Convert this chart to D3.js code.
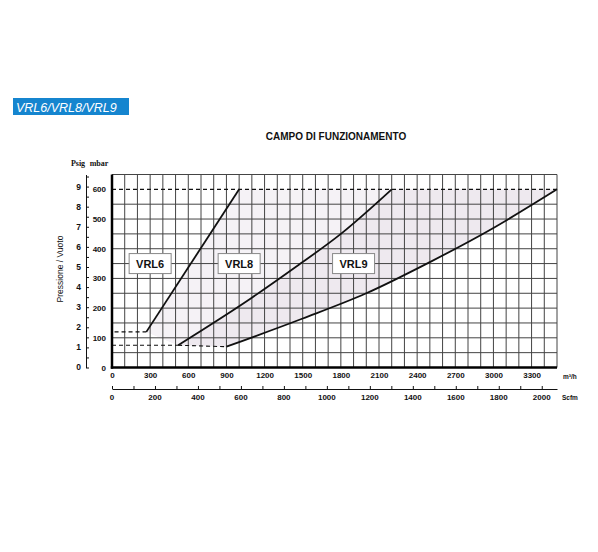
<!DOCTYPE html>
<html>
<head>
<meta charset="utf-8">
<script src="https://cdn.jsdelivr.net/npm/d3@7"></script>
<style>
body { margin: 0; background: #fff; overflow: hidden; }
svg { display: block; }
text { font-family: "Liberation Sans", Arial, sans-serif; fill: #111; }
</style>
</head>
<body>
<svg id="chart" width="598" height="552"></svg>
<script>
// values (flow in m3/h, pressure in mbar)
const models = ["VRL6", "VRL8", "VRL9"];
const vrl6 = [[270, 120], [1000, 600]];
const vrl8 = [[520, 75], [1100, 235], [1450, 340], [1800, 450], [2200, 600]];
const vrl9 = [[900, 70], [1500, 165], [2000, 250], [2500, 355], [3000, 470], [3500, 600]];
// dashed approach before each curve starts: [flow, pressure]
const leadIn = [[20, 120], [0, 75], [520, 75]];
const labelFlow = [300, 1000, 1900];
const labelPressure = 350;
const maxPressure = 600;

const flowTicks = [0, 300, 600, 900, 1200, 1500, 1800, 2100, 2400, 2700, 3000, 3300];
const scfmTicks = [0, 200, 400, 600, 800, 1000, 1200, 1400, 1600, 1800, 2000];
const mbarTicks = [0, 100, 200, 300, 400, 500, 600];
const psigTicks = [0, 1, 2, 3, 4, 5, 6, 7, 8, 9];
const M3H_PER_SCFM = 1.69;
const MBAR_PER_PSI = 67.7;

const svg = d3.select("#chart");
const margin = {top: 174.5, right: 41, bottom: 184.5, left: 112};
const innerWidth = 598 - margin.left - margin.right;
const innerHeight = 552 - margin.top - margin.bottom;

const x = d3.scaleLinear().domain([0, 3500]).range([0, innerWidth]);
const y = d3.scaleLinear().domain([0, 650]).range([innerHeight, 0]);
const xScfm = d3.scaleLinear().domain([0, 3500 / M3H_PER_SCFM]).range([0, innerWidth]);
const yPsi = d3.scaleLinear().domain([0, 650 / MBAR_PER_PSI]).range([innerHeight, 0]);

// header badge + title
svg.append("rect").attr("x", 13).attr("y", 98).attr("width", 116).attr("height", 17).attr("fill", "#1585cf");
svg.append("text").attr("x", 16).attr("y", 111.5)
    .style("fill", "#fff").style("font-size", "12.5px").style("font-style", "italic")
    .text("VRL6/VRL8/VRL9");

svg.append("text").attr("x", 336).attr("y", 139.5).attr("text-anchor", "middle")
    .style("font-size", "10px").style("font-weight", "bold")
    .text("CAMPO DI FUNZIONAMENTO");

const g = svg.append("g").attr("transform", `translate(${margin.left},${margin.top})`);

// shaded working field
const curve = d3.line().x(d => x(d[0])).y(d => y(d[1])).curve(d3.curveMonotoneX);
const top6 = vrl6[vrl6.length - 1], start6 = vrl6[0];
function closeBack(pts) {
    return pts.map(p => "L" + x(p[0]) + "," + y(p[1])).join("") + "Z";
}
g.append("path").attr("d", curve(vrl9) + closeBack([top6, start6, vrl8[0]])).attr("fill", "#eee9ef");
g.append("path").attr("d", curve(vrl8) + closeBack([top6, start6])).attr("fill", "#f5f2f6");

// grid
const gridFlow = d3.range(100, 3501, 100);
const gridP = d3.range(50, 651, 50).filter(v => v !== maxPressure);
g.selectAll(".vgrid").data(gridFlow).join("line")
    .attr("class", "vgrid")
    .attr("x1", d => x(d)).attr("x2", d => x(d))
    .attr("y1", 0).attr("y2", innerHeight)
    .attr("stroke", "#444").attr("stroke-width", 1);
g.selectAll(".hgrid").data(gridP).join("line")
    .attr("class", "hgrid")
    .attr("x1", 0).attr("x2", innerWidth)
    .attr("y1", d => y(d)).attr("y2", d => y(d))
    .attr("stroke", "#444").attr("stroke-width", 1);

// max pressure
g.append("line")
    .attr("x1", x(0)).attr("x2", x(3500))
    .attr("y1", y(maxPressure)).attr("y2", y(maxPressure))
    .attr("stroke", "#111").attr("stroke-width", 1.1).attr("stroke-dasharray", "4,3");

const series = [vrl6, vrl8, vrl9];
series.forEach(function(pts, i) {
    g.append("line")
        .attr("x1", x(leadIn[i][0])).attr("y1", y(leadIn[i][1]))
        .attr("x2", x(pts[0][0])).attr("y2", y(pts[0][1]))
        .attr("stroke", "#111").attr("stroke-width", 1.1).attr("stroke-dasharray", "4,3");
    g.append("path").attr("d", curve(pts))
        .attr("fill", "none").attr("stroke", "#111").attr("stroke-width", 1.8);
});

// model labels
const boxes = g.selectAll(".model").data(models).join("g")
    .attr("class", "model")
    .attr("transform", (d, i) => `translate(${x(labelFlow[i])},${y(labelPressure)})`);
boxes.append("rect").attr("x", -21).attr("y", -10).attr("width", 42).attr("height", 20)
    .attr("fill", "#fff").attr("stroke", "#888").attr("stroke-width", 1);
boxes.append("text").attr("text-anchor", "middle").attr("dy", "0.36em")
    .style("font-size", "11px").style("font-weight", "bold")
    .text(d => d);

// frame
g.append("line").attr("x1", 0).attr("x2", 0).attr("y1", 0).attr("y2", innerHeight + 1.2)
    .attr("stroke", "#000").attr("stroke-width", 2.5);
g.append("line").attr("x1", -1.2).attr("x2", innerWidth).attr("y1", innerHeight).attr("y2", innerHeight)
    .attr("stroke", "#000").attr("stroke-width", 2.5);

// mbar axis
const mbarAxis = g.append("g").call(d3.axisLeft(y).tickValues(mbarTicks).tickSize(0).tickPadding(6).tickFormat(d3.format("d")));
mbarAxis.select(".domain").remove();

// flow axis
const flowAxis = g.append("g").attr("transform", `translate(0,${innerHeight})`)
    .call(d3.axisBottom(x).tickValues(flowTicks).tickSize(0).tickPadding(4.5).tickFormat(d3.format("d")));
flowAxis.select(".domain").remove();

[mbarAxis, flowAxis].forEach(a => a.selectAll("text")
    .style("font-size", "8px").style("font-weight", "bold").attr("fill", "#111"));

// psig axis
const psiAxis = g.append("g").attr("transform", "translate(-26,0)")
    .call(d3.axisRight(yPsi).tickValues(d3.range(0, 9.6, 0.5)).tickSize(3).tickSizeOuter(0).tickFormat(""));
psiAxis.selectAll("path, line").attr("stroke", "#111");
psiAxis.selectAll(".psilabel").data(psigTicks).join("text")
    .attr("class", "psilabel")
    .attr("x", -5).attr("y", d => yPsi(d)).attr("dy", "0.35em")
    .attr("text-anchor", "end")
    .style("font-size", "8.5px").style("font-weight", "bold")
    .text(d => d);

// scfm axis
const scfmY = 214.5;
const scfmAxis = g.append("g").attr("transform", `translate(0,${scfmY})`)
    .call(d3.axisTop(xScfm).tickValues(d3.range(0, 2051, 100)).tickSize(3).tickSizeOuter(0).tickFormat(""));
scfmAxis.selectAll("path, line").attr("stroke", "#111");
scfmAxis.selectAll(".scfmlabel").data(scfmTicks).join("text")
    .attr("class", "scfmlabel")
    .attr("x", d => xScfm(d)).attr("y", 11)
    .attr("text-anchor", "middle")
    .style("font-size", "8px").style("font-weight", "bold")
    .text(d => d);

// units and titles
g.append("text").attr("x", 451).attr("y", 204.5)
    .style("font-size", "6.5px").style("font-weight", "bold").text("m³/h");
g.append("text").attr("x", 450).attr("y", 225.5)
    .style("font-size", "6.5px").style("font-weight", "bold").text("Scfm");

svg.append("text").attr("x", 78).attr("y", 166).attr("text-anchor", "middle")
    .style("font-family", "'Liberation Serif', serif")
    .style("font-size", "8px").style("font-weight", "bold").text("Psig");
svg.append("text").attr("x", 99).attr("y", 166).attr("text-anchor", "middle")
    .style("font-family", "'Liberation Serif', serif")
    .style("font-size", "8px").style("font-weight", "bold").text("mbar");

svg.append("text").attr("transform", "translate(63,269) rotate(-90)")
    .attr("text-anchor", "middle")
    .style("font-size", "8.5px")
    .text("Pressione / Vuoto");
</script>
</body>
</html>
